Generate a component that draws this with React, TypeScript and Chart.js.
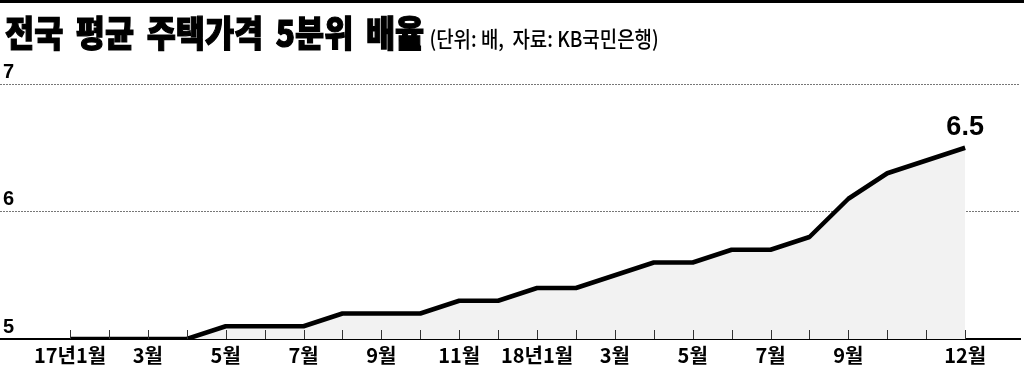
import React, { useEffect, useRef } from "react";
import { Chart, registerables } from "chart.js";

Chart.register(...registerables);

const title = "전국 평균 주택가격 5분위 배율";
const subtitle = "(단위: 배,  자료: KB국민은행)";

const months: string[] = [
  "17-01", "17-02", "17-03", "17-04", "17-05", "17-06", "17-07", "17-08", "17-09", "17-10", "17-11", "17-12",
  "18-01", "18-02", "18-03", "18-04", "18-05", "18-06", "18-07", "18-08", "18-09", "18-10", "18-11", "18-12",
];
const xTickLabels: string[] = [
  "17년1월", "", "3월", "", "5월", "", "7월", "", "9월", "", "11월", "",
  "18년1월", "", "3월", "", "5월", "", "7월", "", "9월", "", "", "12월",
];
const values: number[] = [
  5.0, 5.0, 5.0, 5.0, 5.1, 5.1, 5.1, 5.2, 5.2, 5.2, 5.3, 5.3,
  5.4, 5.4, 5.5, 5.6, 5.6, 5.7, 5.7, 5.8, 6.1, 6.3, 6.4, 6.5,
];
const yTicks: number[] = [5, 6, 7];
const lastLabel = "6.5";

export default function App() {
  const ref = useRef<HTMLCanvasElement | null>(null);

  useEffect(() => {
    document.body.style.margin = "0";
    const canvas = ref.current;
    if (!canvas) return;

    const monthTicks = {
      id: "monthTicks",
      afterDatasetsDraw(chart: any) {
        const { ctx, scales } = chart;
        const xs = scales.x;
        const ys = scales.y;
        const base = ys.getPixelForValue(5);
        ctx.save();
        ctx.strokeStyle = "#333";
        ctx.lineWidth = 1;
        months.forEach((_, i) => {
          const px = Math.round(xs.getPixelForValue(i)) + 0.5;
          ctx.beginPath();
          ctx.moveTo(px, base);
          ctx.lineTo(px, base - 9);
          ctx.stroke();
        });
        const meta = chart.getDatasetMeta(0);
        const last = meta.data[meta.data.length - 1];
        ctx.fillStyle = "#000";
        ctx.font = "bold 27px 'Liberation Sans Narrow', 'Liberation Sans', sans-serif";
        ctx.textAlign = "center";
        ctx.textBaseline = "alphabetic";
        ctx.fillText(lastLabel, last.x, last.y - 13);
        ctx.restore();
      },
    };

    const chart = new Chart(canvas, {
      type: "line",
      data: {
        datasets: [
          {
            data: values.map((v, i) => ({ x: i, y: v })),
            borderColor: "#000",
            borderWidth: 4.5,
            backgroundColor: "#f2f2f2",
            fill: "start",
            pointRadius: 0,
            tension: 0,
            borderJoinStyle: "round",
            borderCapStyle: "butt",
          },
        ],
      },
      options: {
        animation: false,
        responsive: false,
        layout: { padding: { top: 84, left: 0, right: 4, bottom: 0 } },
        plugins: {
          legend: { display: false },
          tooltip: { enabled: false },
        },
        scales: {
          x: {
            type: "linear",
            min: -1.8,
            max: 24.41,
            afterBuildTicks: (scale: any) => {
              scale.ticks = months.map((_, i) => ({ value: i }));
            },
            afterFit: (scale: any) => {
              scale.height = 29;
            },
            grid: { display: false, drawTicks: false },
            border: { display: true, color: "#000", width: 2 },
            ticks: {
              autoSkip: false,
              maxRotation: 0,
              padding: 4,
              color: "#000",
              font: { size: 20, weight: "bold", family: "'Liberation Sans Narrow', 'Noto Sans CJK KR', sans-serif", lineHeight: 1.2 },
              callback: (v: any) => xTickLabels[Number(v)] ?? "",
            },
          },
          y: {
            min: 5,
            max: 7,
            afterBuildTicks: (scale: any) => {
              scale.ticks = yTicks.map((v) => ({ value: v }));
            },
            afterFit: (scale: any) => {
              scale.width = 0;
            },
            grid: {
              color: "#777",
              lineWidth: 1,
              drawTicks: false,
            },
            border: { display: false, dash: [2, 1] },
            ticks: {
              mirror: true,
              padding: 3,
              labelOffset: -12,
              color: "#000",
              font: { size: 20, weight: "bold", family: "'Liberation Sans', sans-serif" },
              callback: (v: any) => String(v),
            },
          },
        },
      },
      plugins: [monthTicks],
    } as any);

    return () => chart.destroy();
  }, []);

  return (
    <div style={{ position: "relative", width: 1024, height: 368, background: "#fff", overflow: "hidden" }}>
      <div style={{ position: "absolute", left: 0, top: 0, width: 1024, height: 3, background: "#000" }} />
      <canvas ref={ref} width={1024} height={368} style={{ position: "absolute", left: 0, top: 0 }} />
      <div
        style={{
          position: "absolute",
          left: 5,
          top: 6,
          whiteSpace: "pre",
          fontFamily: "'Noto Sans CJK KR', sans-serif",
          color: "#000",
          transformOrigin: "left top",
          transform: "scaleX(0.88)",
        }}
      >
        <span style={{ fontSize: 36, fontWeight: 900, wordSpacing: 6, lineHeight: "50px", WebkitTextStroke: "1.2px #000" }}>{title}</span>
        <span style={{ fontSize: 21.5, fontWeight: 500, marginLeft: 6, letterSpacing: 0 }}>{subtitle}</span>
      </div>
    </div>
  );
}
